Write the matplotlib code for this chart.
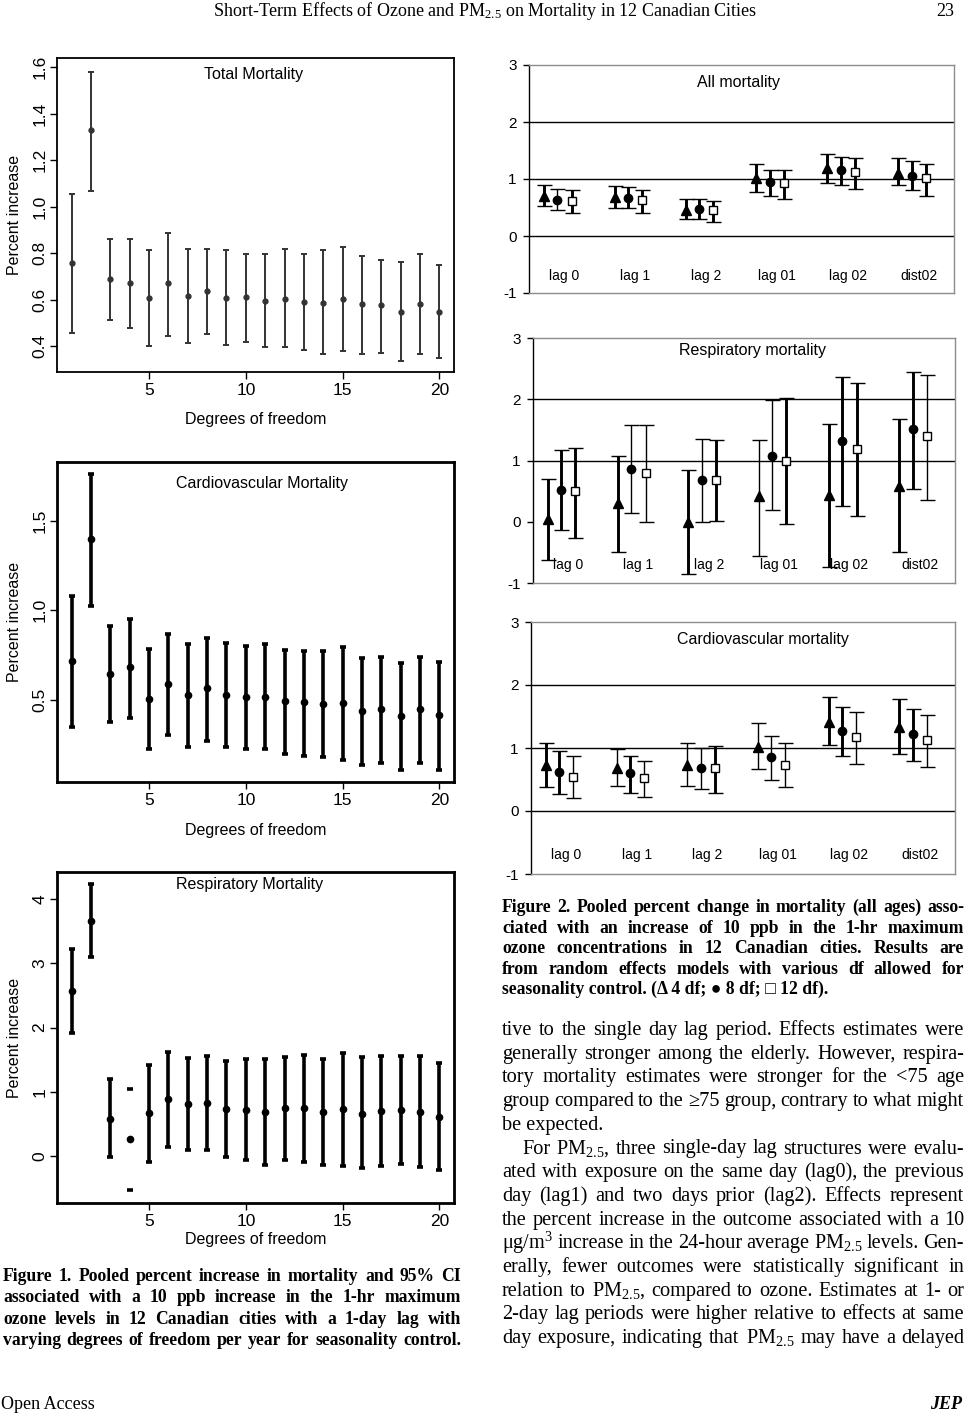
import matplotlib
matplotlib.use('Agg')
import matplotlib.pyplot as plt

plt.rcParams['font.family'] = ['Liberation Sans', 'DejaVu Sans']
plt.rcParams['axes.unicode_minus'] = False
plt.rcParams['mathtext.fontset'] = 'custom'
plt.rcParams['mathtext.rm'] = 'Liberation Serif'
plt.rcParams['mathtext.it'] = 'Liberation Serif:italic'
plt.rcParams['mathtext.bf'] = 'Liberation Serif:bold'

SERIF = ['Liberation Serif', 'DejaVu Serif']
W, H = 965, 1414

# ---- Figure 1 data: degrees of freedom vs percent increase ----
dof = list(range(1, 21))
total_est = [0.756, 1.33, 0.687, 0.670, 0.608, 0.670, 0.617, 0.638, 0.608, 0.611,
             0.594, 0.604, 0.590, 0.587, 0.604, 0.579, 0.575, 0.546, 0.581, 0.546]
total_lo = [0.455, 1.069, 0.512, 0.476, 0.401, 0.445, 0.412, 0.450, 0.405, 0.417,
            0.396, 0.396, 0.383, 0.364, 0.378, 0.364, 0.371, 0.335, 0.364, 0.347]
total_hi = [1.055, 1.58, 0.861, 0.861, 0.812, 0.888, 0.816, 0.819, 0.812, 0.795,
            0.795, 0.816, 0.795, 0.812, 0.825, 0.789, 0.770, 0.760, 0.795, 0.747]

cardio_est = [0.718, 1.397, 0.644, 0.681, 0.504, 0.588, 0.524, 0.565, 0.524, 0.517,
              0.517, 0.491, 0.487, 0.476, 0.483, 0.438, 0.446, 0.410, 0.446, 0.414]
cardio_lo = [0.345, 1.026, 0.373, 0.399, 0.224, 0.302, 0.237, 0.271, 0.237, 0.224,
             0.224, 0.194, 0.187, 0.181, 0.162, 0.134, 0.144, 0.106, 0.144, 0.106]
cardio_hi = [1.082, 1.763, 0.914, 0.953, 0.785, 0.866, 0.812, 0.843, 0.815, 0.802,
             0.812, 0.778, 0.771, 0.771, 0.797, 0.731, 0.741, 0.707, 0.741, 0.713]

resp_df_est = [2.577, 3.662, 0.582, 0.270, 0.665, 0.888, 0.810, 0.821, 0.727, 0.717,
               0.691, 0.753, 0.743, 0.691, 0.727, 0.660, 0.706, 0.717, 0.691, 0.613]
resp_df_lo = [1.912, 3.101, -0.021, -0.530, -0.099, 0.146, 0.094, 0.094, -0.021, -0.057,
              -0.140, -0.057, -0.099, -0.140, -0.156, -0.192, -0.156, -0.125, -0.177, -0.213]
resp_df_hi = [3.221, 4.234, 1.200, 1.039, 1.423, 1.626, 1.527, 1.564, 1.475, 1.512,
              1.512, 1.543, 1.579, 1.512, 1.610, 1.543, 1.564, 1.564, 1.564, 1.444]

# ---- Figure 2 data: lag structures, rows = 4 df, 8 df, 12 df ----
lag_labels = ['lag 0', 'lag 1', 'lag 2', 'lag 01', 'lag 02', 'dist02']

all_est = [[0.71, 0.68, 0.46, 1.02, 1.19, 1.10],
           [0.64, 0.67, 0.47, 0.955, 1.16, 1.06],
           [0.61, 0.64, 0.45, 0.925, 1.13, 1.01]]
all_lo = [[0.52, 0.49, 0.29, 0.77, 0.93, 0.89],
          [0.46, 0.49, 0.29, 0.71, 0.90, 0.80],
          [0.41, 0.41, 0.24, 0.65, 0.82, 0.71]]
all_hi = [[0.90, 0.885, 0.65, 1.27, 1.44, 1.36],
          [0.82, 0.855, 0.65, 1.16, 1.39, 1.32],
          [0.80, 0.815, 0.62, 1.16, 1.36, 1.27]]

resp_est = [[0.05, 0.30, 0.00, 0.42, 0.44, 0.59],
            [0.52, 0.86, 0.68, 1.08, 1.32, 1.51],
            [0.50, 0.79, 0.68, 1.00, 1.19, 1.40]]
resp_lo = [[-0.62, -0.50, -0.85, -0.56, -0.74, -0.50],
           [-0.13, 0.14, -0.01, 0.19, 0.25, 0.54],
           [-0.26, -0.01, 0.01, -0.04, 0.09, 0.35]]
resp_hi = [[0.70, 1.07, 0.85, 1.34, 1.60, 1.68],
           [1.17, 1.58, 1.35, 1.98, 2.37, 2.45],
           [1.20, 1.58, 1.34, 2.02, 2.27, 2.40]]

cv_est = [[0.735, 0.69, 0.735, 1.02, 1.41, 1.33],
          [0.62, 0.60, 0.68, 0.86, 1.275, 1.23],
          [0.545, 0.525, 0.69, 0.73, 1.175, 1.12]]
cv_lo = [[0.376, 0.40, 0.40, 0.667, 1.053, 0.905],
         [0.275, 0.29, 0.35, 0.487, 0.873, 0.80],
         [0.20, 0.22, 0.29, 0.376, 0.741, 0.693]]
cv_hi = [[1.085, 0.98, 1.085, 1.397, 1.815, 1.783],
         [0.947, 0.868, 1.005, 1.185, 1.656, 1.624],
         [0.868, 0.794, 1.026, 1.085, 1.577, 1.529]]

# bar thickness as drawn in the original (1 = heavy)
all_thick = [[1, 1, 1, 1, 1, 1], [0, 1, 1, 1, 1, 1], [1, 1, 1, 1, 1, 1]]
resp_thick = [[1, 1, 1, 0, 1, 1], [1, 0, 0, 0, 1, 1], [1, 0, 1, 1, 1, 0]]
cv_thick = [[1, 0, 0, 0, 1, 1], [1, 1, 0, 0, 1, 1], [0, 0, 1, 0, 0, 0]]

fig = plt.figure(figsize=(W / 100, H / 100), dpi=100)


def add_ax(l, t, r, b):
    return fig.add_axes([l / W, 1 - b / H, (r - l) / W, (b - t) / H])


def r_panel(ax, est, lo, hi, ylim, yticks, title, tpos, xlab_y, lw, color, ms, frame_lw, hidden=()):
    for i, d in enumerate(dof):
        eb = ax.errorbar(d, est[i], yerr=[[est[i] - lo[i]], [hi[i] - est[i]]], fmt='o',
                         color=color, ms=ms, lw=lw, capsize=2.4, capthick=lw)
        if d in hidden:
            eb[2][0].set_linewidth(0)
    ax.set_xlim(0.24, 20.76)
    ax.set_ylim(*ylim)
    ax.set_xticks([5, 10, 15, 20])
    ax.set_yticks(yticks)
    ax.set_yticklabels([str(v) for v in yticks], rotation=90, va='center')
    ax.tick_params(direction='out', length=5, width=1, labelsize=12.5)
    ax.tick_params(axis='x', pad=3)
    ax.tick_params(axis='y', pad=2)
    for s in ax.spines.values():
        s.set_linewidth(frame_lw)
    ax.text(tpos[0], tpos[1], title, transform=ax.transAxes, ha='center', va='center', fontsize=11.5)
    ax.set_ylabel('Percent increase', fontsize=11.5, va='center')
    ax.yaxis.set_label_coords(-0.106, 0.5)
    ax.set_xlabel('Degrees of freedom', fontsize=11.5)
    ax.xaxis.label.set_va('center')
    ax.xaxis.set_label_coords(0.5, xlab_y)


ax1 = add_ax(57, 58, 454, 372)
r_panel(ax1, total_est, total_lo, total_hi, (0.288, 1.64), [0.4, 0.6, 0.8, 1.0, 1.2, 1.4, 1.6],
        'Total Mortality', (0.494, 0.946), -0.150, 1.4, '#333333', 3.5, 1.3)

ax2 = add_ax(57, 462, 454, 782)
r_panel(ax2, cardio_est, cardio_lo, cardio_hi, (0.039, 1.83), [0.5, 1.0, 1.5],
        'Cardiovascular Mortality', (0.516, 0.934), -0.150, 2.6, 'black', 4.5, 2.0)

ax3 = add_ax(57, 872, 454, 1203)
r_panel(ax3, resp_df_est, resp_df_lo, resp_df_hi, (-0.732, 4.425), [0, 1, 2, 3, 4],
        'Respiratory Mortality', (0.486, 0.961), -0.109, 2.6, 'black', 4.5, 2.0, hidden=(4,))

offsets = [-0.29, -0.1, 0.1]
markers = ['^', 'o', 's']
msizes = [7.5, 6, 5.5]
faces = ['black', 'black', 'white']


def xl_panel(ax, est, lo, hi, thick, title, tpos, gridlines):
    for k in range(3):
        for i in range(len(lag_labels)):
            lw = 2.1 if thick[k][i] else 1.0
            ax.errorbar(i + offsets[k], est[k][i],
                        yerr=[[est[k][i] - lo[k][i]], [hi[k][i] - est[k][i]]],
                        fmt=markers[k], ms=msizes[k], mfc=faces[k], mec='black', mew=1,
                        color='black', lw=lw, capsize=5.4, capthick=lw, zorder=3)
    for yv in gridlines:
        ax.axhline(yv, color='black', lw=1, zorder=1)
    ax.set_xlim(-0.5, 5.5)
    ax.set_ylim(-1, 3)
    ax.set_xticks([])
    ax.set_yticks([-1, 0, 1, 2, 3])
    ax.tick_params(axis='y', direction='out', length=4, width=1, labelsize=11, pad=5)
    ax.spines['left'].set_color('black')
    ax.spines['left'].set_linewidth(1)
    for s in ['top', 'right', 'bottom']:
        ax.spines[s].set_color('#8c8c8c')
        ax.spines[s].set_linewidth(1)
    for i, lab in enumerate(lag_labels):
        ax.text(i, -0.7, lab, ha='center', va='center', fontsize=10)
    ax.text(tpos[0], tpos[1], title, transform=ax.transAxes, ha='center', va='center', fontsize=11.5)


axA = add_ax(529, 65, 954, 293)
xl_panel(axA, all_est, all_lo, all_hi, all_thick, 'All mortality', (0.492, 0.925), [0, 1, 2])
axB = add_ax(533, 338, 955, 583)
xl_panel(axB, resp_est, resp_lo, resp_hi, resp_thick, 'Respiratory mortality', (0.519, 0.947), [1, 2])
axC = add_ax(531, 622, 955, 874)
xl_panel(axC, cv_est, cv_lo, cv_hi, cv_thick, 'Cardiovascular mortality', (0.547, 0.929), [0, 1, 2])

# ---- page text ----
just_items = []


def text_line(s, left, right, base, size, weight='normal', justify=True):
    if not justify:
        fig.text(left / W, 1 - base / H, s, ha='left', va='baseline', fontsize=size,
                 weight=weight, family=SERIF)
        return
    objs = [fig.text(0, 1 - base / H, w, ha='left', va='baseline', fontsize=size,
                     weight=weight, family=SERIF) for w in s.split(' ')]
    just_items.append((objs, left, right))


fig.text(485 / W, 1 - 16 / H, 'Short-Term Effects of Ozone and PM$_{2.5}$ on Mortality in 12 Canadian Cities',
         ha='center', va='baseline', fontsize=13, family=SERIF)
fig.text(945 / W, 1 - 16 / H, '23', ha='center', va='baseline', fontsize=13, family=SERIF)

fig1_caption = ['Figure 1. Pooled percent increase in mortality and 95% CI',
                'associated with a 10 ppb increase in the 1-hr maximum',
                'ozone levels in 12 Canadian cities with a 1-day lag with',
                'varying degrees of freedom per year for seasonality control.']
for n, line in enumerate(fig1_caption):
    text_line(line, 3, 461, 1281 + n * 21.4, 12.7, weight='bold')

fig2_caption = ['Figure 2. Pooled percent change in mortality (all ages) asso-',
                'ciated with an increase of 10 ppb in the 1-hr maximum',
                'ozone concentrations in 12 Canadian cities. Results are',
                'from random effects models with various df allowed for',
                'seasonality control. (\u0394 4 df; \u25cf 8 df; \u25a1 12 df).']
for n, line in enumerate(fig2_caption):
    text_line(line, 502, 964, 912 + n * 20.6, 12.7, weight='bold', justify=n < 4)

body = [('tive to the single day lag period. Effects estimates were', True, 0),
        ('generally stronger among the elderly. However, respira-', True, 0),
        ('tory mortality estimates were stronger for the <75 age', True, 0),
        ('group compared to the \u226575 group, contrary to what might', True, 0),
        ('be expected.', False, 0),
        ('For PM$_{2.5}$, three single-day lag structures were evalu-', True, 20),
        ('ated with exposure on the same day (lag0), the previous', True, 0),
        ('day (lag1) and two days prior (lag2). Effects represent', True, 0),
        ('the percent increase in the outcome associated with a 10', True, 0),
        ('\u03bcg/m$^3$ increase in the 24-hour average PM$_{2.5}$ levels. Gen-', True, 0),
        ('erally, fewer outcomes were statistically significant in', True, 0),
        ('relation to PM$_{2.5}$, compared to ozone. Estimates at 1- or', True, 0),
        ('2-day lag periods were higher relative to effects at same', True, 0),
        ('day exposure, indicating that PM$_{2.5}$ may have a delayed', True, 0)]
for n, (line, just, indent) in enumerate(body):
    text_line(line, 502 + indent, 964, 1035 + n * 23.7, 14.6, justify=just)

fig.text(1 / W, 1 - 1409 / H, 'Open Access', ha='left', va='baseline', fontsize=13, family=SERIF)
fig.text(962 / W, 1 - 1409 / H, 'JEP', ha='right', va='baseline', fontsize=13, family=SERIF,
         weight='bold', style='italic')

renderer = fig.canvas.get_renderer()
for objs, left, right in just_items:
    widths = [o.get_window_extent(renderer=renderer).width for o in objs]
    gap = (right - left - sum(widths)) / (len(objs) - 1)
    x = left
    for o, w in zip(objs, widths):
        o.set_x(x / W)
        x += w + gap

fig.savefig('out.png', dpi=100)
